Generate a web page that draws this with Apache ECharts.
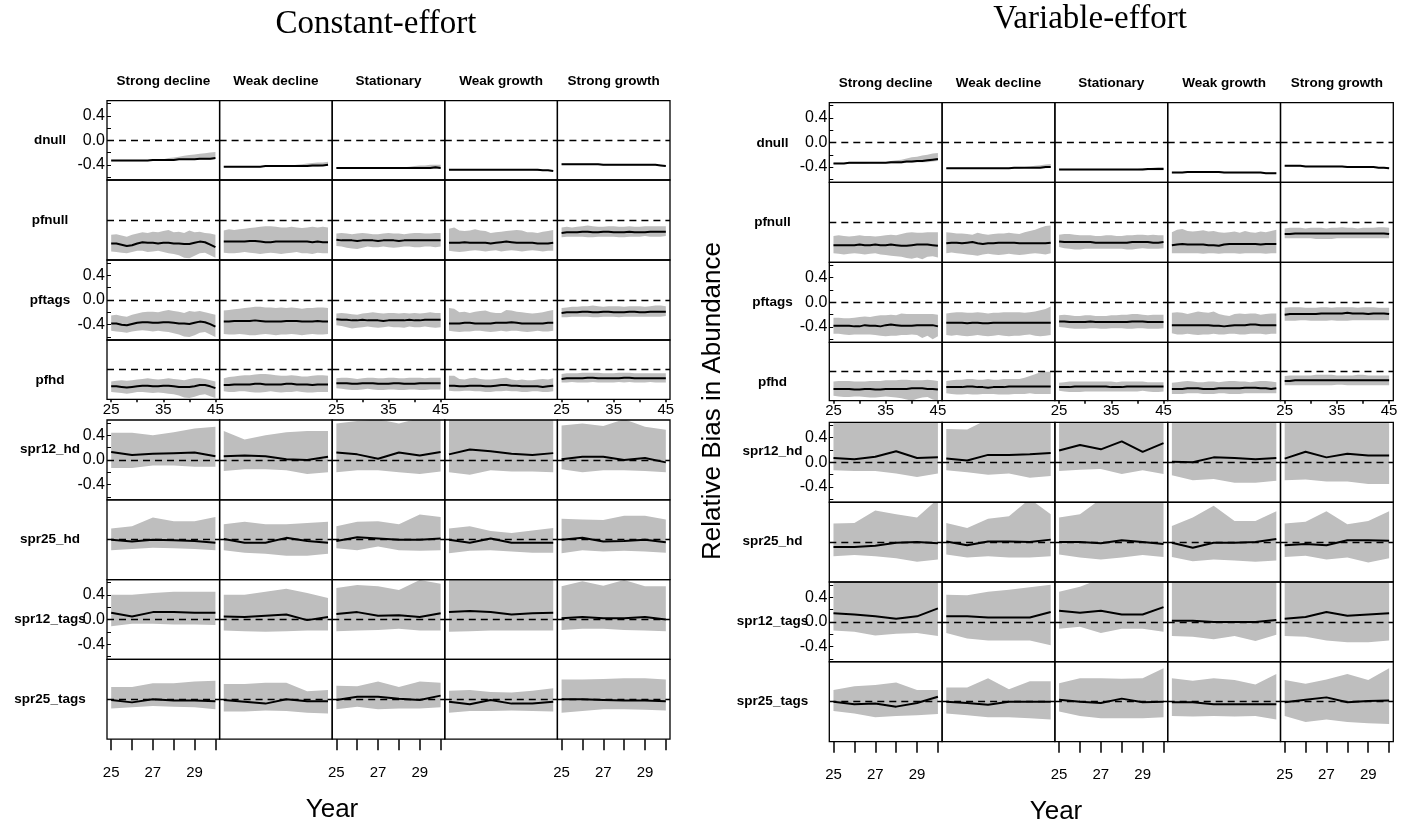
<!DOCTYPE html>
<html><head><meta charset="utf-8">
<script src="https://cdn.jsdelivr.net/npm/echarts@6/dist/echarts.min.js"></script>
<style>html,body{margin:0;padding:0;background:#fff}#c{width:1401px;height:829px}</style>
</head><body><div id="c"></div>
<script>
// ---------- categories / ticks ----------
const years45 = [25,26,27,28,29,30,31,32,33,34,35,36,37,38,39,40,41,42,43,44,45];
const years30 = [25,26,27,28,29,30];
const rowNames = ['dnull','pfnull','pftags','pfhd','spr12_hd','spr25_hd','spr12_tags','spr25_tags'];
const colNames = ['Strong decline','Weak decline','Stationary','Weak growth','Strong growth'];
const yTicks = [-0.4, 0, 0.4];
const xTicksTop = [25,35,45];
const xTicksBottom = [25,27,29];
const panelTitles = ['Constant-effort','Variable-effort'];

// ---------- values (relative bias x100), one array per column ----------
// Constant-effort
const ce_dnull_m = [
[-33,-33,-33,-33,-33,-33,-33,-33,-32,-32,-32,-32,-32,-31,-31,-31,-31,-30,-30,-30,-29],
[-43,-43,-43,-43,-43,-43,-43,-43,-42,-42,-42,-42,-42,-42,-42,-42,-42,-41,-41,-41,-40],
[-45,-45,-45,-45,-45,-45,-45,-45,-45,-45,-45,-45,-45,-45,-45,-45,-45,-45,-45,-44,-45],
[-48,-48,-48,-48,-48,-48,-48,-48,-48,-48,-48,-48,-48,-48,-48,-48,-48,-48,-49,-49,-50],
[-39,-39,-39,-39,-39,-39,-39,-39,-40,-40,-40,-40,-40,-40,-40,-40,-40,-40,-40,-41,-42]];
const ce_dnull_lo = [
[-34,-34,-34,-34,-34,-34,-34,-34,-33,-33,-33,-33,-33,-32,-32,-32,-32,-32,-32,-32,-31],
[-44,-44,-44,-44,-44,-44,-44,-44,-43,-43,-43,-43,-43,-43,-43,-43,-43,-43,-43,-42,-42],
[-46,-46,-46,-46,-46,-46,-46,-46,-46,-46,-46,-46,-46,-46,-46,-46,-46,-47,-47,-47,-47],
[-49,-49,-49,-49,-49,-49,-49,-49,-49,-49,-49,-49,-49,-49,-49,-49,-49,-50,-50,-50,-51],
[-40,-40,-40,-40,-40,-40,-40,-40,-41,-41,-41,-41,-41,-41,-41,-41,-41,-41,-41,-42,-43]];
const ce_dnull_hi = [
[-32,-32,-32,-32,-32,-32,-32,-32,-31,-31,-31,-29,-28,-27,-25,-24,-23,-22,-21,-20,-19],
[-42,-42,-42,-42,-42,-42,-42,-42,-42,-42,-42,-42,-42,-41,-40,-39,-38,-37,-36,-36,-35],
[-44,-44,-44,-44,-44,-44,-44,-44,-44,-44,-44,-44,-44,-44,-43,-42,-41,-41,-40,-40,-40],
[-47,-47,-47,-47,-47,-47,-47,-47,-47,-47,-47,-47,-47,-47,-47,-47,-47,-47,-48,-48,-49],
[-38,-38,-38,-38,-38,-38,-38,-38,-39,-39,-39,-39,-39,-39,-39,-39,-39,-39,-39,-40,-41]];

const ce_pfnull_m = [
[-38,-38,-40,-42,-41,-38,-36,-37,-37,-38,-37,-37,-38,-38,-39,-39,-37,-35,-36,-40,-44],
[-35,-35,-35,-35,-35,-34,-34,-35,-36,-36,-35,-35,-35,-35,-35,-35,-35,-36,-35,-36,-36],
[-32,-33,-33,-33,-34,-33,-33,-33,-34,-33,-33,-33,-34,-33,-33,-33,-33,-33,-33,-33,-33],
[-37,-37,-37,-36,-37,-37,-37,-37,-38,-37,-36,-35,-36,-37,-37,-37,-37,-38,-38,-38,-37],
[-21,-20,-20,-20,-19,-19,-20,-20,-19,-19,-20,-20,-20,-19,-20,-20,-20,-19,-19,-19,-19]];
const ce_pfnull_lo = [
[-51,-52,-53,-54,-52,-50,-50,-52,-51,-50,-52,-54,-55,-57,-61,-62,-58,-54,-53,-57,-61],
[-53,-54,-54,-53,-52,-53,-54,-55,-54,-53,-54,-55,-54,-53,-52,-54,-54,-55,-53,-54,-54],
[-42,-43,-45,-46,-47,-45,-43,-44,-44,-43,-44,-45,-44,-43,-43,-44,-44,-43,-43,-44,-43],
[-50,-51,-52,-51,-50,-49,-50,-51,-50,-49,-51,-50,-49,-50,-51,-50,-49,-50,-51,-50,-50],
[-28,-27,-27,-27,-27,-28,-28,-27,-27,-27,-27,-28,-28,-27,-27,-27,-26,-27,-27,-27,-26]];
const ce_pfnull_hi = [
[-24,-23,-25,-27,-24,-22,-20,-21,-19,-20,-18,-16,-20,-19,-21,-17,-20,-19,-21,-22,-24],
[-17,-15,-16,-15,-14,-13,-12,-11,-10,-10,-11,-12,-12,-11,-12,-13,-12,-11,-12,-11,-12],
[-22,-21,-22,-23,-22,-21,-22,-23,-23,-22,-21,-22,-22,-23,-22,-21,-21,-22,-22,-21,-21],
[-14,-12,-17,-18,-17,-15,-17,-18,-21,-20,-19,-18,-17,-16,-17,-20,-20,-21,-19,-18,-16],
[-12,-11,-12,-11,-10,-9,-10,-11,-11,-10,-10,-11,-11,-10,-11,-11,-10,-10,-10,-10,-10]];

const ce_pftags_m = [
[-38,-38,-40,-41,-39,-37,-36,-36,-37,-37,-36,-36,-37,-38,-38,-39,-37,-35,-36,-39,-43],
[-35,-35,-34,-34,-34,-34,-33,-34,-35,-35,-35,-35,-34,-34,-34,-35,-35,-35,-34,-35,-35],
[-31,-32,-32,-33,-33,-32,-33,-33,-33,-34,-33,-33,-33,-33,-32,-33,-33,-32,-32,-32,-32],
[-38,-38,-38,-37,-37,-38,-38,-38,-38,-37,-37,-37,-36,-37,-38,-38,-38,-38,-38,-37,-37],
[-21,-20,-20,-20,-19,-19,-20,-20,-19,-19,-20,-20,-20,-19,-19,-20,-20,-19,-19,-19,-19]];
const ce_pftags_lo = [
[-50,-51,-52,-53,-51,-50,-49,-50,-51,-50,-51,-52,-54,-56,-59,-60,-57,-53,-52,-56,-60],
[-55,-56,-56,-55,-56,-57,-57,-56,-55,-56,-57,-56,-56,-55,-56,-57,-56,-55,-56,-56,-55],
[-41,-42,-44,-46,-45,-44,-43,-44,-45,-44,-43,-44,-44,-45,-43,-44,-44,-43,-44,-45,-44],
[-50,-51,-52,-51,-51,-50,-50,-51,-52,-51,-50,-51,-50,-50,-51,-52,-51,-50,-51,-51,-50],
[-28,-28,-27,-27,-27,-27,-28,-28,-27,-27,-27,-28,-27,-27,-27,-27,-27,-27,-27,-27,-26]];
const ce_pftags_hi = [
[-25,-24,-26,-27,-24,-22,-20,-19,-19,-20,-18,-16,-18,-19,-21,-18,-19,-18,-20,-22,-24],
[-17,-16,-15,-14,-13,-12,-11,-11,-12,-12,-13,-12,-13,-12,-13,-14,-13,-13,-12,-12,-13],
[-22,-21,-22,-23,-24,-22,-21,-20,-21,-22,-21,-21,-22,-21,-22,-21,-22,-21,-20,-21,-21],
[-13,-14,-20,-19,-21,-19,-18,-17,-20,-21,-21,-16,-17,-19,-20,-21,-22,-21,-20,-18,-16],
[-13,-12,-11,-11,-10,-10,-9,-10,-11,-10,-10,-10,-11,-10,-10,-10,-11,-10,-9,-9,-10]];

const ce_pfhd_m = [
[-28,-28,-29,-30,-29,-28,-27,-27,-28,-28,-27,-27,-28,-29,-29,-29,-28,-26,-26,-28,-31],
[-26,-26,-25,-25,-25,-25,-24,-24,-25,-25,-25,-25,-24,-24,-25,-25,-25,-26,-25,-25,-25],
[-23,-23,-23,-24,-24,-23,-23,-23,-24,-24,-24,-23,-23,-24,-24,-24,-23,-23,-23,-23,-23],
[-27,-27,-28,-28,-27,-27,-27,-28,-28,-27,-26,-26,-27,-27,-28,-28,-28,-28,-29,-28,-27],
[-16,-15,-15,-15,-15,-14,-14,-15,-15,-15,-15,-15,-14,-14,-15,-15,-15,-15,-15,-15,-15]];
const ce_pfhd_lo = [
[-37,-38,-39,-40,-39,-37,-37,-38,-39,-38,-39,-40,-41,-43,-46,-47,-45,-42,-41,-44,-47],
[-36,-37,-37,-36,-36,-37,-38,-38,-37,-36,-37,-38,-37,-37,-36,-37,-38,-38,-37,-37,-37],
[-31,-32,-33,-34,-34,-33,-32,-33,-34,-34,-33,-33,-34,-34,-33,-33,-34,-34,-33,-33,-33],
[-35,-36,-36,-35,-35,-36,-36,-37,-37,-36,-36,-35,-36,-36,-37,-37,-36,-36,-37,-37,-36],
[-22,-22,-21,-22,-22,-22,-21,-22,-22,-22,-22,-21,-22,-21,-22,-22,-22,-21,-22,-22,-22]];
const ce_pfhd_hi = [
[-20,-19,-18,-19,-18,-17,-16,-15,-16,-17,-16,-15,-16,-17,-18,-16,-15,-15,-16,-18,-20],
[-15,-13,-12,-11,-10,-10,-9,-8,-8,-9,-10,-11,-11,-10,-11,-12,-12,-11,-10,-10,-11],
[-15,-14,-14,-15,-16,-15,-14,-14,-15,-15,-14,-14,-15,-15,-14,-14,-14,-15,-14,-14,-14],
[-11,-11,-16,-17,-15,-14,-16,-17,-17,-16,-15,-14,-17,-18,-17,-18,-18,-17,-16,-17,-15],
[-8,-7,-7,-7,-6,-6,-6,-6,-7,-7,-7,-6,-6,-6,-7,-7,-7,-7,-7,-7,-7]];

const ce_spr12_hd_m  = [[13,8,10,11,12,6],[6,7,6,1,0,5],[12,9,2,12,7,13],[9,17,14,10,8,11],[1,5,5,0,3,-4]];
const ce_spr12_hd_lo = [[-13,-13,-9,-9,-11,-11],[-18,-15,-15,-17,-23,-20],[-20,-17,-17,-20,-23,-19],[-20,-24,-17,-19,-19,-20],[-15,-20,-17,-17,-18,-20]];
const ce_spr12_hd_hi = [[44,44,40,45,51,54],[47,33,40,45,47,47],[59,63,66,59,68,70],[70,70,70,70,70,70],[56,59,55,66,54,49]];
const ce_spr25_hd_m  = [[0,-3,0,-1,-2,-5],[1,-5,-5,3,-2,-5],[-2,4,2,0,0,2],[0,-5,2,-5,-5,-5],[0,3,-3,-2,0,-4]];
const ce_spr25_hd_lo = [[-17,-15,-13,-14,-15,-17],[-17,-21,-23,-26,-26,-23],[-14,-17,-11,-17,-18,-17],[-22,-18,-17,-19,-21,-21],[-22,-17,-19,-18,-19,-21]];
const ce_spr25_hd_hi = [[18,22,36,30,30,37],[25,29,25,25,27,29],[22,29,30,25,41,37],[18,22,14,11,15,19],[34,33,32,39,39,33]];
const ce_spr12_tags_m  = [[11,5,12,12,11,11],[5,4,6,8,-1,4],[9,12,6,7,4,10],[12,14,12,8,10,11],[2,4,2,2,4,0]];
const ce_spr12_tags_lo = [[-11,-7,-7,-8,-8,-9],[-18,-19,-20,-19,-18,-18],[-19,-18,-17,-15,-18,-18],[-20,-19,-18,-18,-18,-18],[-17,-15,-15,-17,-18,-19]];
const ce_spr12_tags_hi = [[40,40,43,45,45,45],[40,40,45,50,43,35],[51,56,54,48,64,58],[70,70,70,70,70,70],[54,62,55,64,54,54]];
const ce_spr25_tags_m  = [[-1,-5,0,-2,-2,-3],[-1,-4,-7,0,-3,-3],[-1,4,4,1,-1,6],[-4,-8,-1,-7,-7,-4],[0,0,-1,-2,-2,-3]];
const ce_spr25_tags_lo = [[-15,-13,-11,-12,-13,-16],[-20,-20,-18,-19,-22,-23],[-16,-12,-16,-15,-15,-13],[-22,-19,-19,-18,-19,-20],[-22,-19,-16,-16,-17,-18]];
const ce_spr25_tags_hi = [[20,20,26,26,29,30],[25,25,27,27,13,15],[22,21,29,20,29,27],[14,15,12,11,14,18],[32,32,33,34,34,32]];

// Variable-effort
const ve_dnull_m = [
[-34,-34,-34,-33,-33,-33,-33,-33,-33,-33,-33,-32,-32,-32,-31,-31,-30,-30,-29,-28,-27],
[-42,-42,-42,-42,-42,-42,-42,-42,-42,-42,-42,-42,-42,-41,-41,-41,-41,-41,-41,-40,-40],
[-44,-44,-44,-44,-44,-44,-44,-44,-44,-44,-44,-44,-44,-44,-44,-44,-44,-43,-43,-43,-43],
[-49,-49,-49,-48,-48,-48,-48,-48,-48,-48,-49,-49,-49,-49,-49,-49,-49,-49,-50,-50,-50],
[-38,-38,-38,-38,-39,-39,-39,-39,-39,-39,-39,-39,-40,-40,-40,-40,-40,-40,-41,-41,-42]];
const ve_dnull_lo = [
[-35,-35,-35,-35,-35,-35,-35,-34,-34,-34,-34,-34,-34,-34,-33,-33,-32,-32,-32,-31,-30],
[-43,-43,-43,-43,-43,-43,-43,-43,-43,-43,-43,-43,-43,-43,-43,-42,-42,-42,-42,-42,-41],
[-45,-45,-45,-45,-45,-45,-45,-45,-45,-45,-45,-45,-45,-45,-45,-45,-45,-45,-45,-45,-45],
[-50,-50,-50,-49,-49,-49,-49,-49,-49,-49,-50,-50,-50,-50,-50,-50,-50,-50,-51,-51,-51],
[-39,-39,-39,-39,-40,-40,-40,-40,-40,-40,-40,-40,-41,-41,-41,-41,-41,-41,-42,-42,-43]];
const ve_dnull_hi = [
[-33,-33,-33,-32,-32,-32,-32,-32,-32,-32,-32,-30,-29,-28,-26,-24,-23,-21,-20,-18,-17],
[-41,-41,-41,-41,-41,-41,-41,-41,-41,-41,-41,-41,-41,-41,-41,-40,-39,-38,-37,-36,-35],
[-43,-43,-43,-43,-43,-43,-43,-43,-43,-43,-43,-43,-43,-43,-43,-43,-42,-42,-41,-40,-40],
[-48,-48,-48,-47,-47,-47,-47,-47,-47,-47,-48,-48,-48,-48,-48,-48,-48,-48,-49,-49,-49],
[-37,-37,-37,-37,-38,-38,-38,-38,-38,-38,-38,-38,-39,-39,-39,-39,-39,-39,-40,-40,-41]];

const ve_pfnull_m = [
[-37,-37,-37,-37,-37,-36,-37,-37,-36,-37,-37,-36,-37,-38,-38,-37,-36,-36,-36,-37,-38],
[-34,-33,-33,-34,-33,-32,-34,-35,-34,-34,-33,-33,-33,-33,-34,-34,-34,-34,-34,-34,-33],
[-31,-32,-32,-32,-32,-32,-32,-33,-33,-33,-33,-33,-33,-33,-32,-32,-32,-32,-33,-33,-32],
[-37,-36,-35,-36,-36,-36,-36,-37,-37,-38,-36,-35,-35,-35,-35,-35,-35,-36,-35,-35,-35],
[-19,-19,-18,-18,-18,-18,-18,-18,-18,-18,-18,-18,-18,-18,-18,-18,-18,-18,-18,-18,-19]];
const ve_pfnull_lo = [
[-50,-51,-52,-51,-50,-51,-52,-51,-50,-52,-53,-54,-55,-56,-58,-59,-57,-60,-56,-55,-57],
[-50,-49,-50,-51,-52,-53,-54,-52,-51,-52,-53,-52,-51,-52,-53,-52,-51,-50,-51,-52,-50],
[-40,-42,-43,-44,-44,-43,-43,-43,-43,-43,-43,-43,-43,-44,-44,-43,-42,-43,-43,-43,-42],
[-50,-50,-50,-50,-50,-50,-51,-50,-50,-51,-50,-50,-50,-51,-50,-50,-50,-50,-51,-50,-50],
[-26,-26,-26,-26,-26,-26,-27,-27,-27,-27,-26,-26,-26,-26,-26,-26,-26,-26,-26,-26,-26]];
const ve_pfnull_hi = [
[-22,-21,-22,-23,-22,-21,-22,-22,-23,-22,-21,-20,-21,-19,-17,-16,-17,-17,-16,-16,-16],
[-16,-17,-18,-18,-19,-20,-17,-19,-20,-19,-18,-18,-17,-18,-19,-16,-14,-12,-9,-6,-5],
[-20,-19,-19,-20,-21,-21,-21,-22,-22,-21,-21,-22,-22,-21,-21,-20,-20,-21,-20,-21,-21],
[-16,-12,-11,-14,-15,-14,-13,-15,-14,-16,-17,-16,-15,-17,-14,-16,-17,-15,-16,-14,-12],
[-10,-9,-9,-9,-10,-9,-9,-9,-10,-9,-9,-8,-9,-9,-10,-9,-9,-9,-8,-8,-9]];

const ve_pftags_m = [
[-38,-38,-38,-38,-39,-39,-37,-38,-38,-39,-37,-36,-37,-38,-38,-38,-37,-37,-37,-37,-39],
[-33,-33,-33,-33,-34,-33,-33,-34,-34,-33,-33,-33,-33,-33,-33,-33,-33,-33,-33,-33,-33],
[-31,-31,-32,-32,-32,-32,-31,-32,-32,-32,-32,-32,-32,-32,-31,-31,-31,-32,-32,-32,-32],
[-37,-37,-37,-37,-37,-37,-37,-37,-38,-38,-39,-38,-37,-37,-37,-36,-36,-37,-37,-37,-37],
[-20,-19,-19,-19,-19,-19,-19,-18,-18,-18,-18,-18,-17,-18,-18,-18,-19,-18,-18,-18,-19]];
const ve_pftags_lo = [
[-51,-51,-52,-53,-52,-52,-52,-52,-53,-54,-55,-54,-54,-53,-53,-52,-53,-58,-54,-60,-55],
[-53,-54,-53,-54,-55,-54,-53,-54,-55,-54,-53,-54,-55,-54,-54,-53,-52,-54,-55,-54,-53],
[-40,-41,-42,-43,-43,-43,-42,-42,-43,-43,-42,-42,-42,-43,-43,-42,-42,-43,-43,-43,-42],
[-50,-52,-52,-51,-52,-53,-52,-52,-51,-52,-52,-51,-51,-52,-52,-51,-51,-51,-52,-51,-51],
[-30,-30,-30,-29,-29,-30,-30,-30,-30,-29,-30,-30,-30,-29,-29,-29,-29,-29,-29,-29,-29]];
const ve_pftags_hi = [
[-25,-25,-26,-26,-25,-24,-23,-24,-22,-21,-21,-20,-21,-18,-19,-19,-19,-19,-19,-19,-20],
[-18,-17,-16,-16,-17,-17,-16,-17,-18,-17,-17,-16,-16,-16,-16,-17,-16,-15,-13,-11,-7],
[-21,-20,-21,-22,-22,-21,-21,-22,-22,-22,-21,-21,-20,-20,-19,-19,-20,-21,-20,-20,-20],
[-17,-16,-17,-19,-17,-15,-16,-17,-15,-19,-21,-22,-19,-18,-19,-18,-18,-20,-19,-18,-18],
[-9,-8,-8,-8,-9,-9,-9,-8,-8,-9,-8,-8,-8,-8,-9,-8,-8,-8,-9,-9,-9]];

const ve_pfhd_m = [
[-28,-28,-28,-28,-29,-29,-28,-28,-29,-29,-28,-28,-28,-28,-28,-27,-27,-27,-28,-28,-29],
[-25,-25,-25,-25,-24,-24,-25,-25,-26,-25,-25,-25,-24,-24,-24,-24,-24,-24,-24,-24,-24],
[-25,-25,-25,-24,-24,-24,-24,-24,-24,-24,-25,-25,-25,-24,-24,-24,-24,-24,-24,-24,-24],
[-28,-28,-28,-27,-27,-27,-28,-28,-28,-27,-27,-27,-27,-27,-26,-26,-26,-27,-27,-28,-27],
[-15,-15,-14,-14,-14,-14,-14,-14,-14,-14,-14,-14,-14,-14,-14,-14,-14,-14,-14,-14,-14]];
const ve_pfhd_lo = [
[-39,-40,-41,-41,-40,-40,-41,-42,-42,-41,-40,-41,-42,-43,-45,-47,-44,-42,-41,-45,-47],
[-35,-36,-37,-37,-36,-37,-37,-36,-36,-36,-37,-37,-37,-36,-36,-36,-35,-36,-36,-36,-36],
[-31,-32,-33,-33,-33,-32,-32,-32,-32,-32,-32,-32,-32,-32,-32,-32,-31,-32,-33,-33,-32],
[-36,-36,-36,-35,-35,-35,-36,-36,-36,-35,-35,-36,-36,-36,-35,-35,-35,-35,-35,-35,-35],
[-22,-22,-22,-22,-22,-22,-22,-22,-22,-22,-21,-21,-22,-22,-22,-22,-22,-22,-22,-22,-22]];
const ve_pfhd_hi = [
[-16,-15,-15,-15,-16,-16,-16,-15,-15,-15,-14,-14,-14,-13,-13,-14,-14,-14,-13,-14,-15],
[-15,-14,-13,-13,-12,-12,-13,-13,-12,-13,-13,-12,-12,-12,-12,-10,-7,-4,-1,0,0],
[-18,-17,-16,-16,-16,-16,-16,-16,-16,-16,-16,-17,-16,-16,-16,-16,-16,-17,-17,-17,-17],
[-18,-17,-16,-15,-16,-17,-17,-16,-16,-17,-16,-15,-15,-16,-16,-17,-16,-15,-15,-16,-17],
[-7,-6,-6,-6,-6,-6,-5,-5,-5,-5,-6,-6,-6,-6,-5,-5,-6,-6,-6,-6,-6]];

const ve_spr12_hd_m  = [[7,5,9,18,7,8],[6,3,12,12,13,15],[19,28,21,34,17,31],[1,0,8,7,5,7],[6,17,8,14,11,11]];
const ve_spr12_hd_lo = [[-13,-14,-14,-18,-24,-18],[-13,-16,-20,-18,-25,-22],[-14,-12,-11,-19,-13,-19],[-21,-29,-27,-33,-33,-30],[-29,-28,-31,-31,-35,-35]];
const ve_spr12_hd_hi = [[70,70,70,70,70,70],[54,53,70,70,70,70],[70,70,70,70,70,70],[70,70,70,70,70,70],[70,70,70,70,70,70]];
const ve_spr25_hd_m  = [[-8,-8,-6,-1,0,-2],[1,-5,1,1,0,4],[0,0,-2,3,0,-3],[-1,-9,-1,-1,0,5],[-5,-3,-5,3,3,2]];
const ve_spr25_hd_lo = [[-23,-21,-23,-26,-32,-28],[-20,-25,-23,-25,-25,-23],[-20,-25,-28,-25,-21,-24],[-24,-31,-28,-30,-32,-30],[-24,-22,-28,-25,-33,-26]];
const ve_spr25_hd_hi = [[30,31,51,45,40,70],[31,23,38,42,70,45],[40,45,70,70,70,70],[26,40,59,34,34,50],[30,33,50,29,34,50]];
const ve_spr12_tags_m  = [[14,12,9,5,9,22],[9,9,7,7,7,16],[18,15,18,12,12,24],[2,2,0,0,0,3],[5,8,16,10,12,14]];
const ve_spr12_tags_lo = [[-14,-16,-22,-19,-18,-23],[-18,-27,-30,-30,-30,-38],[-11,-8,-18,-11,-11,-16],[-23,-24,-28,-23,-31,-21],[-23,-24,-30,-33,-33,-30]];
const ve_spr12_tags_hi = [[70,70,70,70,70,70],[44,43,49,52,56,60],[49,57,70,70,70,70],[70,70,70,70,70,70],[70,70,70,70,70,70]];
const ve_spr25_tags_m  = [[0,-4,-3,-8,-2,8],[0,-2,-5,0,0,0],[3,0,-2,5,-1,0],[-1,-1,-4,-4,-4,-4],[-1,3,7,-1,1,2]];
const ve_spr25_tags_lo = [[-15,-19,-25,-23,-22,-20],[-19,-22,-25,-25,-27,-29],[-16,-23,-27,-27,-27,-25],[-23,-24,-23,-24,-23,-29],[-23,-33,-29,-33,-35,-36]];
const ve_spr25_tags_hi = [[19,25,27,31,19,19],[23,23,38,20,33,33],[30,38,38,37,38,54],[38,34,38,35,28,45],[35,29,36,45,35,54]];

// ---------- assemble ----------
const DATA = {
  ce: {
    dnull:{m:ce_dnull_m,lo:ce_dnull_lo,hi:ce_dnull_hi},
    pfnull:{m:ce_pfnull_m,lo:ce_pfnull_lo,hi:ce_pfnull_hi},
    pftags:{m:ce_pftags_m,lo:ce_pftags_lo,hi:ce_pftags_hi},
    pfhd:{m:ce_pfhd_m,lo:ce_pfhd_lo,hi:ce_pfhd_hi},
    spr12_hd:{m:ce_spr12_hd_m,lo:ce_spr12_hd_lo,hi:ce_spr12_hd_hi},
    spr25_hd:{m:ce_spr25_hd_m,lo:ce_spr25_hd_lo,hi:ce_spr25_hd_hi},
    spr12_tags:{m:ce_spr12_tags_m,lo:ce_spr12_tags_lo,hi:ce_spr12_tags_hi},
    spr25_tags:{m:ce_spr25_tags_m,lo:ce_spr25_tags_lo,hi:ce_spr25_tags_hi}
  },
  ve: {
    dnull:{m:ve_dnull_m,lo:ve_dnull_lo,hi:ve_dnull_hi},
    pfnull:{m:ve_pfnull_m,lo:ve_pfnull_lo,hi:ve_pfnull_hi},
    pftags:{m:ve_pftags_m,lo:ve_pftags_lo,hi:ve_pftags_hi},
    pfhd:{m:ve_pfhd_m,lo:ve_pfhd_lo,hi:ve_pfhd_hi},
    spr12_hd:{m:ve_spr12_hd_m,lo:ve_spr12_hd_lo,hi:ve_spr12_hd_hi},
    spr25_hd:{m:ve_spr25_hd_m,lo:ve_spr25_hd_lo,hi:ve_spr25_hd_hi},
    spr12_tags:{m:ve_spr12_tags_m,lo:ve_spr12_tags_lo,hi:ve_spr12_tags_hi},
    spr25_tags:{m:ve_spr25_tags_m,lo:ve_spr25_tags_lo,hi:ve_spr25_tags_hi}
  }
};

const SANS = '"Liberation Sans", Arial, sans-serif';
const SERIF = '"Liberation Serif", "Times New Roman", serif';

const panels = [
  {key:'ce', colX0:107, colW:112.6, topY:[100.7,180,260,340], topH:[79.3,80,80,59.3],
   botY:[420,499.8,579.6,659.4], botH:79.8, pfhdRange:[-0.49,0.47],
   labelX:50, rowLabelY:[140,220,300,380,449,539,619,699], headerY:81,
   title:{x:376,y:24}, yearX:332, yearY:810},
  {key:'ve', colX0:829.3, colW:112.8, topY:[102.7,182.3,262.3,342.3], topH:[79.6,80,80,58.4],
   botY:[422.3,502.1,581.9,661.7], botH:80, pfhdRange:[-0.47,0.476],
   labelX:772.5, rowLabelY:[143,222.7,302,382,451.7,541.7,621.7,701.7], headerY:83,
   title:{x:1090,y:19}, yearX:1056, yearY:812}
];

const grids=[], xAxes=[], yAxes=[], series=[], graphics=[];

function txt(text, x, y, font, rot){
  graphics.push({type:'text', x:x, y:y, rotation:rot||0, silent:true,
    style:{text:text, font:font, fill:'#000', align:'center', verticalAlign:'middle',
           textAlign:'center', textVerticalAlign:'middle'}});
}

// band polygon drawn through the cell's own axes
function bandRender(params, api){
  if (params.dataIndexInside !== 0) return null;
  const n = params.dataInsideLength;
  const pts = [];
  for (let j=0;j<n;j++) pts.push(api.coord([api.value(0,j), api.value(2,j)]));
  for (let j=n-1;j>=0;j--) pts.push(api.coord([api.value(0,j), api.value(1,j)]));
  const cs = params.coordSys;
  return {type:'polygon', shape:{points:pts}, style:{fill:'#bebebe'},
          clipPath:{type:'rect', shape:{x:cs.x, y:cs.y, width:cs.width, height:cs.height}}};
}

panels.forEach((p,pi)=>{
  txt(panelTitles[pi], p.title.x, p.title.y, '33px ' + SERIF);
  colNames.forEach((cn,c)=> txt(cn, p.colX0 + (c+0.5)*p.colW, p.headerY, 'bold 13.5px ' + SANS));
  rowNames.forEach((rn,r)=> txt(rn, p.labelX, p.rowLabelY[r], 'bold 13.5px ' + SANS));
  txt('Year', p.yearX, p.yearY, '26px ' + SANS);

  rowNames.forEach((rn,r)=>{
    const isTop = r < 4;
    const top = isTop ? p.topY[r] : p.botY[r-4];
    const h = isTop ? p.topH[r] : p.botH;
    const yr = r===3 ? p.pfhdRange : [-0.648, 0.648];
    const xs = isTop ? years45 : years30;
    const xr = isTop ? [24.2, 45.8] : [24.8, 30.2];
    const d = DATA[p.key][rn];
    for (let c=0;c<5;c++){
      const gi = grids.length;
      grids.push({left:p.colX0 + c*p.colW, top:top, width:p.colW, height:h, show:true,
                  borderColor:'#000', borderWidth:1.3, backgroundColor:'transparent', z:10});
      const xLab = (r===3 || r===7) && c%2===0;
      xAxes.push({gridIndex:gi, type:'value', min:xr[0], max:xr[1], position:'bottom',
        axisLine:{show:false, onZero:false}, splitLine:{show:false},
        axisTick:{show:xLab, customValues: isTop ? [25,30,35,40,45] : years30, length: isTop?3:11,
                  lineStyle:{color:'#000', width:1.5}},
        axisLabel:{show:xLab, customValues: isTop ? xTicksTop : xTicksBottom, fontSize:15,
                   fontFamily:SANS, color:'#000', margin: isTop?3:26}});
      const yLab = c===0 && r%2===0;
      yAxes.push({gridIndex:gi, type:'value', min:yr[0], max:yr[1], position:'left',
        axisLine:{show:false, onZero:false}, splitLine:{show:false},
        axisTick:{show:yLab, customValues:[-0.6,-0.4,-0.2,0,0.2,0.4,0.6], inside:true, length:4,
                  lineStyle:{color:'#000', width:1}},
        axisLabel:{show:yLab, customValues:yTicks, formatter:v=>Number(v).toFixed(1),
                   fontSize:16, fontFamily:SANS, color:'#000', margin:2}});
      const lo = d.lo[c], hi = d.hi[c], m = d.m[c];
      series.push({type:'custom', xAxisIndex:gi, yAxisIndex:gi, clip:true, silent:true, z:1,
        data: xs.map((x,i)=>[x, lo[i]/100, hi[i]/100]), encode:{x:0, y:[1,2]},
        renderItem: bandRender});
      series.push({type:'line', xAxisIndex:gi, yAxisIndex:gi,
        data: xs.map((x,i)=>[x, m[i]/100]), symbol:'none', silent:true, clip:true, z:3,
        lineStyle:{color:'#000', width:2}, emphasis:{disabled:true},
        markLine:{silent:true, symbol:['none','none'], label:{show:false}, animation:false,
          lineStyle:{color:'#000', type:[7,5], width:1.3}, emphasis:{disabled:true},
          data:[{yAxis:0}]}});
    }
  });
});
txt('Relative Bias in Abundance', 713, 401, '26px ' + SANS, Math.PI/2);

const chart = echarts.init(document.getElementById('c'), null, {renderer:'canvas'});
chart.setOption({
  animation:false,
  backgroundColor:'#fff',
  grid:grids, xAxis:xAxes, yAxis:yAxes, series:series,
  graphic:{elements:graphics}
});
</script></body></html>
